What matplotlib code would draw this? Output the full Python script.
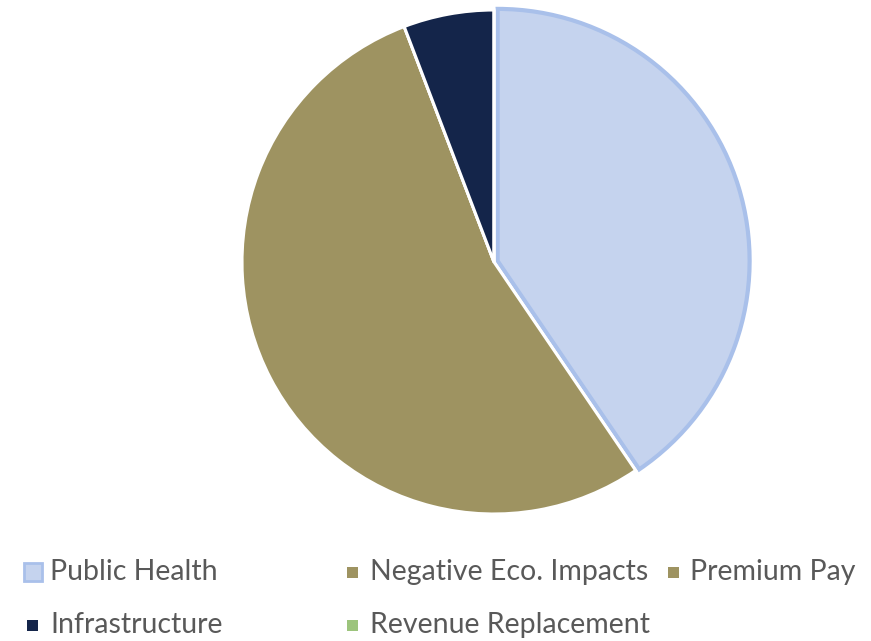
import numpy as np
import matplotlib.pyplot as plt
from matplotlib.patches import Rectangle

# categories and share of funds (%)
labels = ['Public Health', 'Negative Eco. Impacts', 'Premium Pay',
          'Infrastructure', 'Revenue Replacement']
values = [40.5, 53.7, 0.0, 5.8, 0.0]
colors = ['#c5d3ee', '#9e9361', '#9e9361', '#14254a', '#9cc47c']
explode = [0.015, 0, 0, 0, 0]

plt.rcParams['font.family'] = ['Lato', 'DejaVu Sans']

W, H = 871, 641
fig = plt.figure(figsize=(W / 100, H / 100), dpi=100)

# pie area: centre (495, 262) px, radius 252 px
cx, cy, r = 494, 262, 252
ax = fig.add_axes([(cx - r) / W, (H - cy - r) / H, 2 * r / W, 2 * r / H])
wedges, _ = ax.pie(values, colors=colors, explode=explode, startangle=90,
                   counterclock=False, radius=1.0,
                   wedgeprops=dict(edgecolor='white', linewidth=2.2))
wedges[0].set_edgecolor('#a9c0ea')
wedges[0].set_linewidth(3)
for w in wedges:
    w.set_clip_on(False)
ax.set_xlim(-1.0, 1.0)
ax.set_ylim(-1.0, 1.0)
ax.set_aspect('equal')
ax.axis('off')

# legend, laid out like the original (row-major, 3 columns)
marker_x = [27, 347, 668]
text_x = [50, 370, 690]
row_y = [572, 625]
for i, lab in enumerate(labels):
    row, col = divmod(i, 3)
    y = row_y[row]
    if i == 0:
        s = 18
        rect = Rectangle(((marker_x[col] - 3) / W, (H - y - s / 2) / H), s / W, s / H,
                         transform=fig.transFigure, facecolor=colors[i],
                         edgecolor='#a9c0ea', linewidth=2)
    else:
        s = 11
        rect = Rectangle((marker_x[col] / W, (H - y - s / 2) / H), s / W, s / H,
                         transform=fig.transFigure, facecolor=colors[i],
                         edgecolor='none')
    fig.patches.append(rect)
    fig.text(text_x[col] / W, (H - y) / H, lab, fontsize=20.5, color='#595959',
             va='center', ha='left')

fig.savefig('out.png', dpi=100)
